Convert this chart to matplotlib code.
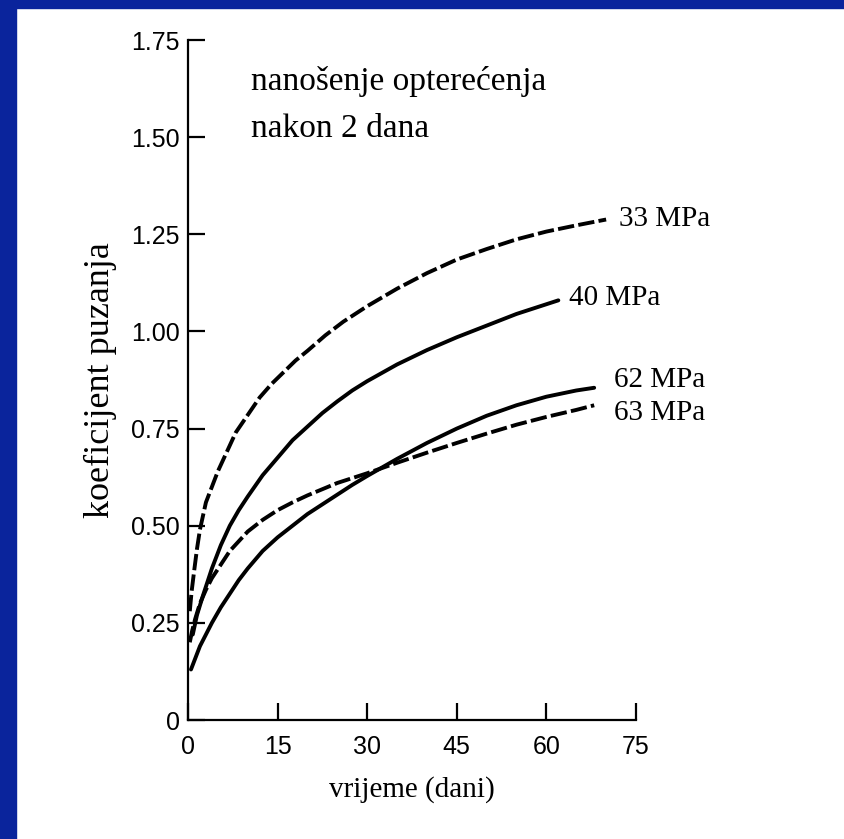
import matplotlib.pyplot as plt
from matplotlib import font_manager
from matplotlib.patches import Rectangle

# creep coefficient vs time
days_33 = [0.3, 0.6, 1, 1.5, 2, 3, 4, 5, 6.5, 8, 10, 12, 14, 16, 18, 20, 23, 26, 30, 35, 40, 45, 50, 55, 60, 65, 70]
creep_33 = [0.28, 0.33, 0.38, 0.44, 0.49, 0.56, 0.60, 0.64, 0.69, 0.74, 0.785, 0.83, 0.865, 0.895, 0.925,
            0.95, 0.99, 1.025, 1.065, 1.11, 1.15, 1.185, 1.212, 1.237, 1.257, 1.273, 1.288]

days_40 = [0.8, 1.5, 2.5, 4, 5.5, 7, 8.5, 10, 12.5, 15, 17.5, 20, 22.5, 25, 27.5, 30, 35, 40, 45, 50, 55, 60, 62]
creep_40 = [0.22, 0.27, 0.32, 0.39, 0.45, 0.50, 0.54, 0.575, 0.63, 0.675, 0.72, 0.755, 0.79, 0.82, 0.848,
            0.872, 0.915, 0.952, 0.985, 1.015, 1.045, 1.07, 1.08]

days_62 = [0.5, 1, 2, 3, 4, 5.5, 7, 8.5, 10, 12.5, 15, 17.5, 20, 22.5, 25, 27.5, 30, 35, 40, 45, 50, 55, 60, 65, 68]
creep_62 = [0.13, 0.15, 0.19, 0.22, 0.25, 0.29, 0.325, 0.36, 0.39, 0.435, 0.47, 0.50, 0.53, 0.555, 0.58,
            0.605, 0.628, 0.672, 0.713, 0.75, 0.783, 0.81, 0.832, 0.848, 0.855]

days_63 = [0.3, 0.7, 1.2, 2, 3, 4, 5.5, 7, 8.5, 10, 12.5, 15, 17.5, 20, 25, 30, 35, 40, 45, 50, 55, 60, 65, 68]
creep_63 = [0.20, 0.23, 0.26, 0.30, 0.335, 0.365, 0.40, 0.435, 0.46, 0.485, 0.515, 0.54, 0.56, 0.578, 0.61,
            0.635, 0.662, 0.688, 0.713, 0.737, 0.76, 0.78, 0.798, 0.81]

x_ticks = [0, 15, 30, 45, 60, 75]
y_ticks = [0, 0.25, 0.50, 0.75, 1.00, 1.25, 1.50, 1.75]
y_tick_labels = ["0", "0.25", "0.50", "0.75", "1.00", "1.25", "1.50", "1.75"]

serif = ["Liberation Serif", "DejaVu Serif"]

# narrow sans for the tick numbers if one is installed
names = {f.name for f in font_manager.fontManager.ttflist}
narrow = "Liberation Sans Narrow" if "Liberation Sans Narrow" in names else "Liberation Sans"

fig = plt.figure(figsize=(8.44, 8.39), dpi=100)
fig.patch.set_facecolor("white")
# slide background strips
fig.patches.append(Rectangle((0, 0), 16 / 844, 1, transform=fig.transFigure, color="#0a249c", zorder=0))
fig.patches.append(Rectangle((0, 1 - 8 / 839), 1, 8 / 839, transform=fig.transFigure, color="#0a249c", zorder=0))

ax = fig.add_axes([188 / 844, 1 - 720 / 839, 448 / 844, 680 / 839])
ax.set_xlim(0, 75)
ax.set_ylim(0, 1.75)

lw = 2.8
ax.plot(days_33, creep_33, color="black", lw=lw, dashes=(4.2, 1.1), clip_on=False)
ax.plot(days_40, creep_40, color="black", lw=lw, solid_capstyle="round", clip_on=False)
ax.plot(days_62, creep_62, color="black", lw=lw, solid_capstyle="round", clip_on=False)
ax.plot(days_63, creep_63, color="black", lw=lw, dashes=(4.2, 1.1), clip_on=False)

label_kw = dict(fontsize=21, family=serif, va="center", ha="left", clip_on=False)
ax.text(72.2, 1.29, "33 MPa", **label_kw)
ax.text(63.8, 1.085, "40 MPa", **label_kw)
ax.text(71.4, 0.874, "62 MPa", **label_kw)
ax.text(71.4, 0.789, "63 MPa", **label_kw)

ax.text(10.5, 1.621, "nanošenje opterećenja", fontsize=24, family=serif, va="baseline", ha="left")
ax.text(10.5, 1.50, "nakon 2 dana", fontsize=24, family=serif, va="baseline", ha="left")

for side in ["top", "right"]:
    ax.spines[side].set_visible(False)
for side in ["left", "bottom"]:
    ax.spines[side].set_linewidth(1.6)

ax.set_xticks(x_ticks)
ax.set_yticks(y_ticks)
ax.set_yticklabels(y_tick_labels)
ax.tick_params(direction="in", length=12, width=1.6)
ax.tick_params(axis="x", pad=11)
ax.tick_params(axis="y", pad=6)
for lab in ax.get_xticklabels() + ax.get_yticklabels():
    lab.set_family(narrow)
    lab.set_fontsize(18)

ax.set_xlabel("vrijeme (dani)", family=serif, fontsize=21, labelpad=12)
ax.set_ylabel("koeficijent puzanja", family=serif, fontsize=26, labelpad=10)

plt.savefig("out.png", dpi=100)
